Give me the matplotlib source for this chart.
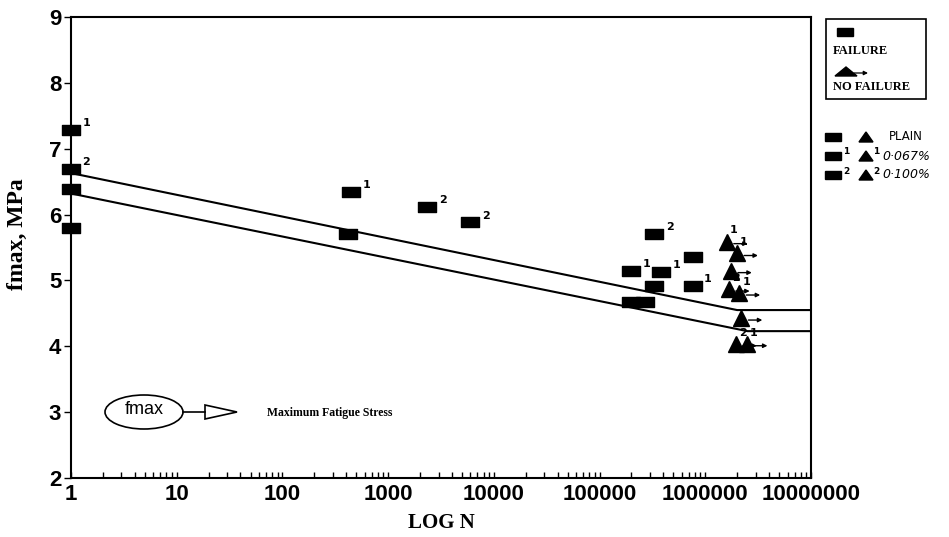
"""
S-N plot: maximum fatigue stress vs number of cycles (log scale),
failure / no-failure specimens for plain and two fibre contents.
"""

import numpy as np
import matplotlib
matplotlib.use("Agg")
import matplotlib.pyplot as plt
import matplotlib.transforms as mtransforms
from matplotlib.path import Path
from matplotlib.patches import Ellipse, Polygon, Rectangle

# ---------------------------------------------------------------------
# Data
# ---------------------------------------------------------------------

# failed specimens (rectangles): cycles, fmax (MPa), fibre label
fail_N     = [1, 1, 1, 1, 450, 420, 2350, 6000,
              3.3e5, 7.6e5, 2.0e5, 3.8e5, 3.3e5, 7.6e5, 2.0e5, 2.7e5]
fail_f     = [7.28, 6.69, 6.39, 5.79, 6.34, 5.71, 6.12, 5.88,
              5.70, 5.35, 5.15, 5.13, 4.92, 4.91, 4.68, 4.68]
fail_label = ["1", "2", "", "", "1", "", "2", "2",
              "2", "", "1", "1", "", "1", "", ""]

# run-outs (triangles with arrow)
run_N     = [1.6e6, 2.0e6, 1.75e6, 1.67e6, 2.1e6, 2.2e6, 1.95e6, 2.46e6]
run_f     = [5.59, 5.41, 5.15, 4.87, 4.81, 4.43, 4.04, 4.04]
run_label = ["1", "1", "2", "2", "1", "", "2", "1"]

# fitted bands
upper_N = [1, 2.0e6, 1e7]
upper_f = [6.63, 4.55, 4.55]
lower_N = [1, 2.5e6, 1e7]
lower_f = [6.32, 4.23, 4.23]

x_ticks = [1, 10, 100, 1000, 10000, 100000, 1000000, 10000000]
y_ticks = [2, 3, 4, 5, 6, 7, 8, 9]

legend_rows = ["PLAIN", "0·067%", "0·100%"]

# ---------------------------------------------------------------------
# Figure
# ---------------------------------------------------------------------

W, H = 949, 537
fig = plt.figure(figsize=(W / 100, H / 100), dpi=100)
ax = fig.add_axes([71 / W, 1 - 478 / H, (811 - 71) / W, (478 - 17) / H])

rect_marker = Path([(-1, -0.55), (1, -0.55), (1, 0.55), (-1, 0.55), (-1, -0.55)],
                   [Path.MOVETO, Path.LINETO, Path.LINETO, Path.LINETO, Path.CLOSEPOLY])

ax.plot(upper_N, upper_f, color="black", lw=1.5, zorder=2)
ax.plot(lower_N, lower_f, color="black", lw=1.5, zorder=2)

ax.plot(fail_N, fail_f, ls="none", marker=rect_marker, ms=12.5,
        color="black", clip_on=False, zorder=3)
ax.plot(run_N, run_f, ls="none", marker="^", ms=11,
        color="black", clip_on=False, zorder=3)

for n, f, lab in zip(fail_N, fail_f, fail_label):
    if lab:
        ax.annotate(lab, (n, f), xytext=(11, 5), textcoords="offset points",
                    fontsize=8, fontweight="bold", ha="center", va="center")

def offset(dx, dy):
    return ax.transData + mtransforms.ScaledTranslation(dx / 72, dy / 72,
                                                        fig.dpi_scale_trans)

for n, f, lab in zip(run_N, run_f, run_label):
    ax.annotate("", xy=(n, f), xycoords=offset(15, -1.5),
                xytext=(n, f), textcoords=offset(5, -1.5),
                arrowprops=dict(arrowstyle="-|>", lw=1.0, color="black",
                                mutation_scale=6, shrinkA=0, shrinkB=0))
    if lab:
        ax.annotate(lab, (n, f), xytext=(5, 8), textcoords="offset points",
                    fontsize=8, fontweight="bold", ha="center", va="center")

ax.set_xscale("log")
ax.set_xlim(1, 1e7)
ax.set_ylim(2, 9)
ax.set_xticks(x_ticks)
ax.set_xticklabels([str(t) for t in x_ticks])
ax.set_yticks(y_ticks)

tick_font = dict(family="Liberation Sans", weight="bold", size=16)
for lab in ax.get_xticklabels() + ax.get_yticklabels():
    lab.set_fontproperties(matplotlib.font_manager.FontProperties(**tick_font))

ax.tick_params(axis="x", which="both", direction="in", length=4, width=1, pad=4)
ax.tick_params(axis="y", direction="out", length=5, width=1, pad=2)
for s in ax.spines.values():
    s.set_linewidth(1.5)

ax.set_xlabel("LOG N", family="Liberation Serif", weight="bold", size=15,
              labelpad=6)
ax.set_ylabel("fmax, MPa", family="Liberation Serif", weight="bold", size=17)
ax.yaxis.set_label_coords(-0.058, 0.53)

# ---------------------------------------------------------------------
# Key and note, drawn on a pixel overlay
# ---------------------------------------------------------------------

ov = fig.add_axes([0, 0, 1, 1], zorder=5)
ov.set_xlim(0, W)
ov.set_ylim(H, 0)
ov.axis("off")

ov.add_patch(Rectangle((826, 19), 100, 80, fill=False, lw=1.2, color="black"))
ov.add_patch(Rectangle((837, 28), 16, 8, color="black"))
ov.text(833, 51, "FAILURE", family="Liberation Serif", weight="bold",
        size=9, va="center")
ov.add_patch(Polygon([(835, 76), (846, 67), (857, 76)], color="black"))
ov.annotate("", xy=(868, 73), xytext=(854, 73),
            arrowprops=dict(arrowstyle="-|>", lw=0.9, color="black",
                            mutation_scale=6, shrinkA=0, shrinkB=0))
ov.text(833, 87, "NO FAILURE", family="Liberation Serif", weight="bold",
        size=9, va="center")

sup = ["", "1", "2"]
for i, txt in enumerate(legend_rows):
    yy = 137 + i * 19
    ov.add_patch(Rectangle((825, yy - 4), 16, 8, color="black"))
    ov.add_patch(Polygon([(859, yy + 5), (866, yy - 5), (873, yy + 5)],
                         color="black"))
    if sup[i]:
        ov.text(843, yy - 4, sup[i], size=6.5, weight="bold", va="center")
        ov.text(873, yy - 4, sup[i], size=6.5, weight="bold", va="center")
        ov.text(882, yy, txt, size=9, style="italic", va="center")
    else:
        ov.text(889, yy, txt, size=8.5, va="center")

ov.add_patch(Ellipse((144, 412), 78, 34, fill=False, lw=1.2, color="black"))
ov.text(144, 410, "fmax", family="Liberation Sans", size=13,
        ha="center", va="center")
ov.plot([183, 205], [412, 412], color="black", lw=1.2)
ov.add_patch(Polygon([(205, 405), (205, 419), (237, 412)], fill=False,
                     lw=1.2, color="black"))
ov.text(267, 413, "Maximum Fatigue Stress", family="Liberation Serif",
        weight="bold", size=8.5, va="center")

plt.savefig("out.png", dpi=100)
plt.close()
